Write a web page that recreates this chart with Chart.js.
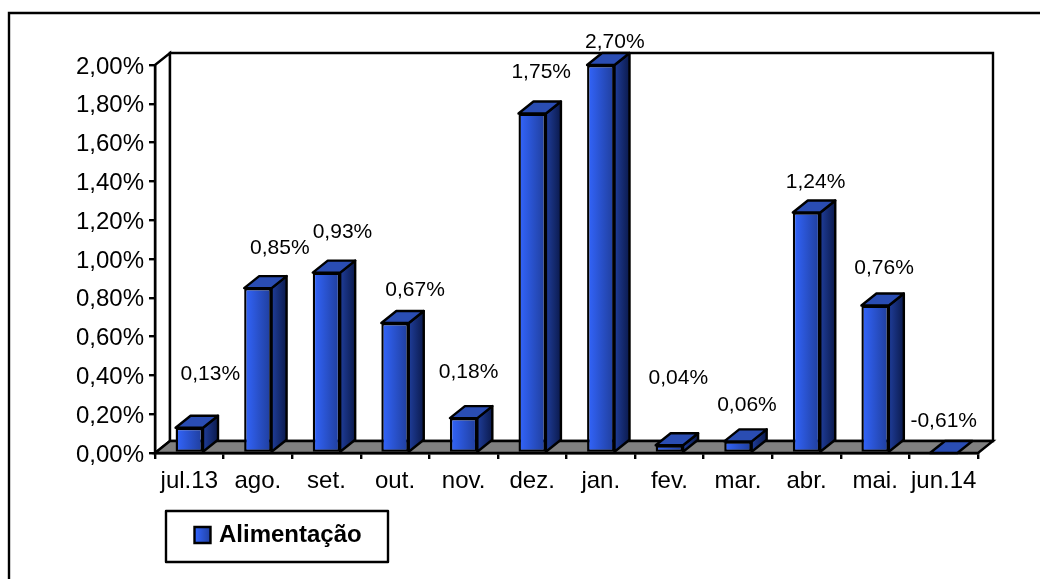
<!DOCTYPE html>
<html>
<head>
<meta charset="utf-8">
<style>
  html, body { margin: 0; padding: 0; background: #fff; }
  canvas { display: block; }
</style>
<script src="https://cdn.jsdelivr.net/npm/chart.js@4/dist/chart.umd.min.js"></script>
</head>
<body>
<canvas id="grafico" width="1040" height="579"></canvas>
<script>
// dados
const meses = ['jul.13', 'ago.', 'set.', 'out.', 'nov.', 'dez.', 'jan.', 'fev.', 'mar.', 'abr.', 'mai.', 'jun.14'];
const alimentacao = [0.13, 0.85, 0.93, 0.67, 0.18, 1.75, 2.70, 0.04, 0.06, 1.24, 0.76, -0.61];
const eixoMin = 0;
const eixoMax = 2;
const eixoPasso = 0.2;

// deslocamento dos rotulos em relacao ao topo da barra (so layout)
const ajusteRotulos = [[21, -54], [22, -40], [16, -40], [20, -33], [5, -46], [9, -41], [14, -23], [9, -67], [9, -36], [9, -30], [9, -37], [0, -32]];

const fonte = 'Arial, "Liberation Sans", sans-serif';
const profX = 15, profY = 12; // profundidade do efeito 3D
const traco = 2.4;
const caixaLegenda = { x: 166, y: 511, w: 222, h: 51 };

const pct = v => v.toFixed(2).replace('.', ',') + '%';
const recorte = v => Math.min(Math.max(v, eixoMin), eixoMax);

function gradiente(ctx, x1, x2, cor1, cor2) {
    const g = ctx.createLinearGradient(x1, 0, x2, 0);
    g.addColorStop(0, cor1);
    g.addColorStop(1, cor2);
    return g;
}

function poligono(ctx, pts, cor) {
    ctx.beginPath();
    pts.forEach((p, i) => i ? ctx.lineTo(p[0], p[1]) : ctx.moveTo(p[0], p[1]));
    ctx.closePath();
    ctx.fillStyle = cor;
    ctx.fill();
    ctx.stroke();
}

// moldura (so topo e esquerda aparecem), paredes e piso
const fundo3D = {
    id: 'fundo3D',
    beforeDraw(chart) {
        const c = chart.ctx, a = chart.chartArea;
        c.save();
        c.fillStyle = '#fff';
        c.fillRect(0, 0, chart.width, chart.height);
        c.strokeStyle = '#000';
        c.lineWidth = traco;
        c.beginPath();
        c.moveTo(9, chart.height);
        c.lineTo(9, 13);
        c.lineTo(chart.width, 13);
        c.stroke();
        poligono(c, [[a.left, a.top], [a.left + profX, a.top - profY], [a.left + profX, a.bottom - profY], [a.left, a.bottom]], '#fff');
        poligono(c, [[a.left + profX, a.top - profY], [a.right + profX, a.top - profY], [a.right + profX, a.bottom - profY], [a.left + profX, a.bottom - profY]], '#fff');
        poligono(c, [[a.left, a.bottom], [a.left + profX, a.bottom - profY], [a.right + profX, a.bottom - profY], [a.right, a.bottom]], '#808080');
        c.restore();
    }
};

// lados e topos das barras, rotulos e caixa da legenda
const barras3D = {
    id: 'barras3D',
    afterLayout(chart) {
        const l = chart.legend;
        l.left = 186; l.top = caixaLegenda.y; l.width = caixaLegenda.w; l.height = caixaLegenda.h;
        l.right = l.left + l.width; l.bottom = l.top + l.height;
    },
    afterDatasetsDraw(chart) {
        const c = chart.ctx;
        c.save();
        c.strokeStyle = '#000';
        c.lineWidth = traco;
        c.lineJoin = 'round';
        chart.getDatasetMeta(0).data.forEach(b => {
            const p = b.getProps(['x', 'y', 'base', 'width']);
            const x1 = p.x - p.width / 2, x2 = p.x + p.width / 2;
            if (p.base > p.y) {
                poligono(c, [[x2, p.y], [x2 + profX, p.y - profY], [x2 + profX, p.base - profY], [x2, p.base]],
                    gradiente(c, x2, x2 + profX, '#1f3d99', '#0b1a4d'));
            }
            poligono(c, [[x1, p.y], [x1 + profX, p.y - profY], [x2 + profX, p.y - profY], [x2, p.y]], '#2a4db3');
        });
        c.fillStyle = '#000';
        c.font = '21px ' + fonte;
        c.textAlign = 'center';
        c.textBaseline = 'middle';
        chart.getDatasetMeta(0).data.forEach((b, i) => {
            c.fillText(pct(alimentacao[i]), b.x + ajusteRotulos[i][0], b.y + ajusteRotulos[i][1]);
        });
        c.strokeRect(caixaLegenda.x, caixaLegenda.y, caixaLegenda.w, caixaLegenda.h);
        c.restore();
    }
};

new Chart(document.getElementById('grafico'), {
    type: 'bar',
    data: {
        labels: meses,
        datasets: [{
            label: 'Alimentação',
            data: alimentacao.map(recorte),
            backgroundColor(ctx) {
                const esc = ctx.chart.scales.x;
                if (!esc || ctx.dataIndex === undefined) return '#3366ff';
                const x = esc.getPixelForValue(ctx.dataIndex);
                return gradiente(ctx.chart.ctx, x - 14, x + 14, '#3366ff', '#1f3d99');
            },
            borderColor: '#000',
            borderWidth: traco,
            borderSkipped: false,
            barPercentage: 0.4,
            categoryPercentage: 1
        }]
    },
    plugins: [fundo3D, barras3D],
    options: {
        responsive: false,
        animation: false,
        layout: { padding: { top: 65, right: 62, bottom: 0, left: 0 } },
        plugins: {
            tooltip: { enabled: false },
            legend: {
                position: 'chartArea',
                align: 'start',
                labels: {
                    color: '#000',
                    font: { family: fonte, size: 24, weight: 'bold' },
                    usePointStyle: true,
                    pointStyle: 'rect',
                    boxWidth: 9,
                    boxHeight: 16,
                    padding: 12,
                    generateLabels: chart => [{
                        text: 'Alimentação',
                        fillStyle: gradiente(chart.ctx, 195, 212, '#3366ff', '#1f3d99'),
                        strokeStyle: '#000',
                        lineWidth: traco,
                        pointStyle: 'rect'
                    }]
                }
            }
        },
        scales: {
            x: {
                afterFit(s) { s.height = 126; },
                grid: { drawOnChartArea: false, color: '#000', tickColor: '#000', tickLength: 6, lineWidth: traco },
                border: { color: '#000', width: traco },
                ticks: { color: '#000', padding: 8, maxRotation: 0, autoSkip: false, font: { family: fonte, size: 24 } }
            },
            y: {
                min: eixoMin,
                max: eixoMax,
                afterFit(s) { s.width = 155; },
                grid: { drawOnChartArea: false, color: '#000', tickColor: '#000', tickLength: 6, lineWidth: traco },
                border: { color: '#000', width: traco },
                ticks: { stepSize: eixoPasso, color: '#000', padding: 5, labelOffset: 2, font: { family: fonte, size: 24 }, callback: v => pct(v) }
            }
        }
    }
});
</script>
</body>
</html>
